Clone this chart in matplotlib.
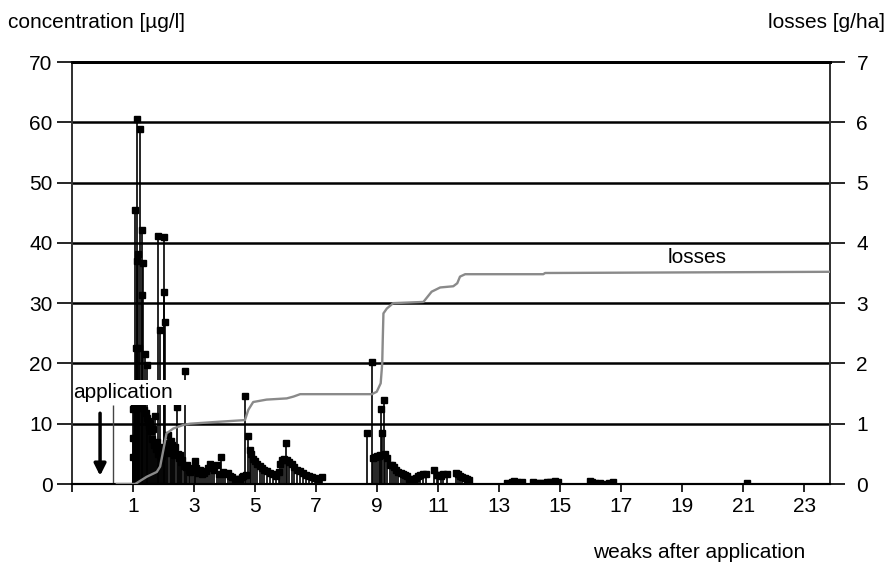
import matplotlib
matplotlib.use("Agg")
import matplotlib.pyplot as plt
from matplotlib.patches import Rectangle
import numpy as np

plt.rcParams['font.family'] = ['Liberation Sans', 'DejaVu Sans']

# concentration samples (weeks after application, µg/l)
conc_weeks = [0.99, 0.99, 1.00, 1.03, 1.05, 1.07, 1.08, 1.10, 1.12, 1.14, 1.15, 1.17, 1.19, 1.21,
              1.23, 1.25, 1.28, 1.29, 1.31, 1.34, 1.36, 1.39, 1.42, 1.45, 1.47, 1.50, 1.53, 1.56,
              1.59, 1.62, 1.65, 1.68, 1.72, 1.75, 1.78, 1.81, 1.83, 1.86, 1.89, 1.92, 1.95, 1.98,
              2.00, 2.03, 2.05, 2.08, 2.12, 2.16, 2.20, 2.24, 2.27, 2.30, 2.34, 2.38, 2.43, 2.47,
              2.51, 2.54, 2.58, 2.62, 2.66, 2.70, 2.74, 2.78, 2.83, 2.88, 2.94, 2.99, 3.03, 3.08,
              3.14, 3.20, 3.26, 3.32, 3.38, 3.45, 3.52, 3.59, 3.67, 3.75, 3.82, 3.89, 3.95, 4.02,
              4.10, 4.18, 4.26, 4.34, 4.42, 4.50, 4.56, 4.62, 4.67, 4.72, 4.78, 4.83, 4.88, 4.94,
              5.00, 5.08, 5.16, 5.23, 5.30, 5.39, 5.48, 5.58, 5.70, 5.78, 5.82, 5.87, 5.95, 6.00,
              6.06, 6.13, 6.20, 6.28, 6.36, 6.46, 6.56, 6.66, 6.77, 6.88, 6.98, 7.08, 7.19,
              8.68, 8.83, 8.88, 8.94, 8.99, 9.05, 9.10, 9.13, 9.15, 9.23, 9.26, 9.34, 9.43, 9.50,
              9.56, 9.63, 9.70, 9.77, 9.84, 9.91, 9.98, 10.06, 10.14, 10.21, 10.28, 10.35, 10.41,
              10.50, 10.61, 10.87, 10.95, 11.01, 11.09, 11.17, 11.30, 11.59, 11.65, 11.72, 11.80,
              11.88, 11.95, 12.03,
              13.25, 13.41, 13.50, 13.58, 13.74, 14.12, 14.25, 14.34, 14.45, 14.56, 14.66, 14.77,
              14.85, 14.93, 15.98, 16.06, 16.14, 16.30, 16.45, 16.60, 16.75, 21.12]
conc_values = [12.4, 7.6, 4.5, 12.9, 13.0, 12.7, 45.5, 22.5, 60.6, 37.0, 38.1, 13.1, 12.8, 22.5,
               58.9, 13.0, 42.2, 31.3, 12.6, 36.6, 12.2, 21.6, 11.8, 10.9, 19.7, 10.4, 9.6, 10.1,
               8.8, 7.5, 9.2, 6.4, 11.2, 5.8, 7.0, 4.9, 41.1, 5.5, 25.5, 6.1, 4.6, 5.9,
               31.9, 41.0, 26.9, 6.8, 5.2, 8.1, 6.0, 7.1, 6.5, 5.4, 4.8, 6.2, 12.8, 5.0,
               4.3, 4.8, 3.6, 3.9, 3.0, 18.8, 2.8, 3.2, 2.4, 2.0, 2.6, 2.3, 3.8, 2.6,
               1.9, 2.3, 1.6, 1.9, 2.2, 2.6, 3.4, 2.9, 2.3, 3.1, 1.7, 4.5, 2.0, 1.6,
               1.9, 1.3, 1.1, 0.9, 0.8, 0.9, 1.2, 1.4, 14.6, 1.5, 8.0, 5.6, 4.9, 4.2,
               3.8, 3.3, 3.0, 2.6, 2.4, 2.1, 1.9, 1.6, 1.4, 2.0, 3.4, 4.0, 4.2, 6.8,
               3.9, 3.6, 3.4, 2.9, 2.4, 2.1, 1.8, 1.5, 1.3, 1.1, 1.0, 0.9, 1.2,
               8.4, 20.3, 4.3, 4.5, 4.6, 4.7, 4.8, 12.4, 8.4, 13.9, 5.0, 4.3, 3.1, 3.2,
               2.8, 2.4, 2.0, 1.9, 1.7, 1.5, 1.3, 0.9, 0.6, 0.8, 1.0, 1.3, 1.5,
               1.6, 1.7, 2.3, 1.5, 1.5, 1.4, 1.6, 1.7, 1.9, 1.7, 1.4, 1.2,
               1.0, 0.8, 0.6,
               0.1, 0.4, 0.5, 0.3, 0.3, 0.4, 0.2, 0.1, 0.2, 0.3, 0.3, 0.4,
               0.5, 0.3, 0.5, 0.4, 0.2, 0.1, 0.0, 0.1, 0.3, 0.2]

# cumulative losses (weeks, g/ha)
loss_weeks = [0.47, 1.07, 1.45, 1.78, 1.89, 2.10, 2.32, 2.65, 2.87, 3.74, 4.67, 4.78, 4.94, 5.38,
              6.04, 6.26, 6.48, 8.83, 8.99, 9.12, 9.17, 9.19, 9.21, 9.32, 9.53, 10.52, 10.79,
              11.07, 11.50, 11.63, 11.72, 11.89, 14.45, 14.51, 23.85]
loss_values = [0.0, 0.0, 0.12, 0.20, 0.29, 0.84, 0.92, 0.98, 1.00, 1.03, 1.06, 1.23, 1.36, 1.40,
               1.42, 1.45, 1.49, 1.49, 1.53, 1.67, 2.00, 2.44, 2.83, 2.91, 3.00, 3.02, 3.19,
               3.26, 3.28, 3.33, 3.44, 3.48, 3.48, 3.50, 3.52]

conc_ticks = [0, 10, 20, 30, 40, 50, 60, 70]
loss_ticks = [0, 1, 2, 3, 4, 5, 6, 7]
week_ticks = [-1, 1, 3, 5, 7, 9, 11, 13, 15, 17, 19, 21, 23]
week_labels = [''] + [str(w) for w in week_ticks[1:]]

W, H = 889, 567
fig = plt.figure(figsize=(W / 100, H / 100), dpi=100)
ax = fig.add_axes([72 / W, 1 - 484 / H, (830 - 72) / W, (484 - 62) / H])
ax2 = ax.twinx()

FS = 15
ax.set_xlim(-1, 23.85)
ax.set_ylim(0, 70)
ax2.set_ylim(0, 7)

for g in conc_ticks[1:-1]:
    ax.axhline(g, color='black', lw=1.8, zorder=1)

ax.vlines(conc_weeks, 0, conc_values, color='black', lw=1.2, zorder=3)
ax.plot(conc_weeks, conc_values, ls='none', marker='s', ms=4.0, color='black', zorder=4)

ax2.plot(loss_weeks, loss_values, color='#8a8a8a', lw=1.7, zorder=5)

ax.set_yticks(conc_ticks)
ax.set_yticklabels([str(t) for t in conc_ticks], fontsize=FS)
ax2.set_yticks(loss_ticks)
ax2.set_yticklabels([str(t) for t in loss_ticks], fontsize=FS)
ax.set_xticks(week_ticks)
ax.set_xticklabels(week_labels, fontsize=FS)

ax.tick_params(axis='y', direction='out', length=11, width=1.2, pad=3)
ax2.tick_params(axis='y', direction='out', length=11, width=1.2, pad=8)
ax.tick_params(axis='x', direction='out', length=6, width=1.2, pad=3)

for a in (ax, ax2):
    a.spines['top'].set_linewidth(2.0)
    a.spines['top'].set_color('black')
    a.spines['left'].set_linewidth(1.3)
    a.spines['left'].set_color('#333333')
    a.spines['right'].set_linewidth(1.3)
    a.spines['right'].set_color('#333333')
    a.spines['bottom'].set_linewidth(1.5)
    a.spines['bottom'].set_color('black')

# white label box that hides the stems behind the "application" label
ax.add_patch(Rectangle((-0.95, 13.1), 3.85, 4.1, facecolor='white', edgecolor='none', zorder=5))

# application marker
ax.vlines([0.34], 0, 13.1, color='#444444', lw=1.0, zorder=3)
ax.annotate('', xy=(-0.08, 0.9), xytext=(-0.08, 12.2),
            arrowprops=dict(arrowstyle='-|>,head_width=0.35,head_length=0.7',
                            color='black', lw=2.5), zorder=6)
ax.text(-0.97, 15.2, 'application', fontsize=FS, ha='left', va='center', zorder=6)
ax.text(19.5, 37.6, 'losses', fontsize=FS, ha='center', va='center', zorder=6)

fig.text(8 / W, 1 - 22 / H, 'concentration [µg/l]', fontsize=FS, ha='left', va='center')
fig.text(885 / W, 1 - 22 / H, 'losses [g/ha]', fontsize=FS, ha='right', va='center')
fig.text(699 / W, 1 - 553 / H, 'weaks after application', fontsize=FS, ha='center', va='center')

fig.savefig('out.png', dpi=100)
